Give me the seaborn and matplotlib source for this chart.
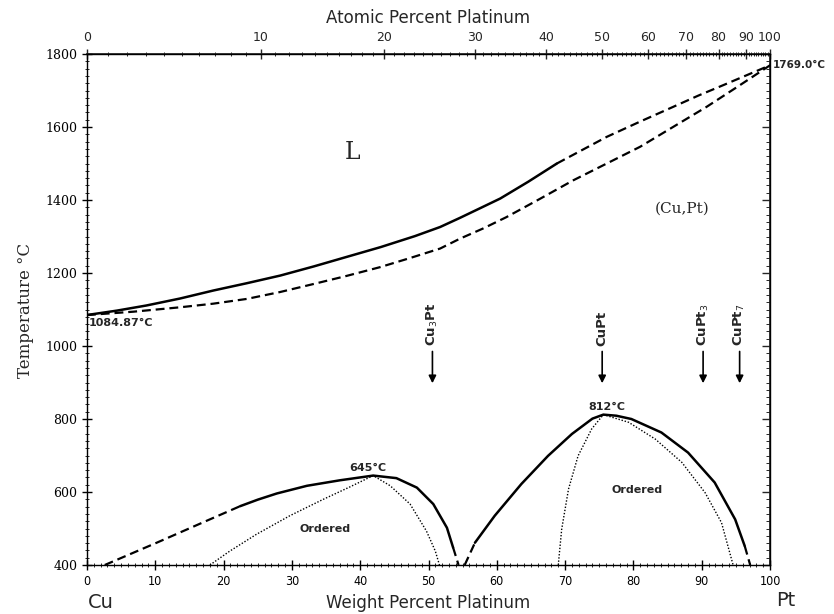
import numpy as np
import pandas as pd
import matplotlib
matplotlib.use("Agg")
import matplotlib.pyplot as plt
import seaborn as sns

# Cu-Pt phase diagram
# liquidus (solid part, then dashed part)
liq_solid_x = [0, 4.4, 8.7, 13.6, 18.5, 23.4, 28.3, 33.2, 38.0, 43.0, 48.0, 51.7, 54.6, 57.5, 60.5, 64.6, 68.8]
liq_solid_t = [1084.87, 1097, 1111, 1130, 1152, 1172, 1193, 1218, 1244, 1271, 1301, 1326, 1351, 1377, 1404, 1450, 1500]
liq_dash_x = [68.8, 72.5, 76.1, 81.0, 85.8, 89.5, 93.2, 96.6, 100]
liq_dash_t = [1500, 1537, 1573, 1615, 1655, 1686, 1715, 1742, 1769]

# solidus (dashed)
sol_x = [0, 6.8, 13.6, 18.5, 23.4, 28.3, 33.2, 38.0, 42.9, 47.3, 51.7, 54.6, 58.0, 61.4, 66.3, 71.2, 76.1, 81.0, 85.8, 90.7, 95.3, 100]
sol_t = [1084.87, 1094, 1106, 1116, 1129, 1148, 1170, 1192, 1216, 1241, 1267, 1294, 1322, 1353, 1403, 1454, 1500, 1546, 1600, 1655, 1711, 1769]

# Cu3Pt ordering dome
cu3pt_dash1_x = [2.6, 10.2, 17.5, 22.4]
cu3pt_dash1_t = [400, 461, 521, 561]
cu3pt_solid_x = [22.4, 25.0, 27.8, 32.2, 37.0, 41.9, 45.3, 48.3, 50.7, 52.7, 53.6]
cu3pt_solid_t = [561, 579, 596, 617, 632, 645, 638, 612, 567, 502, 448]
cu3pt_dash2_x = [53.6, 54.4]
cu3pt_dash2_t = [448, 400]
cu3pt_dot_x = [18.0, 20.9, 24.8, 29.7, 34.6, 38.5, 41.9, 44.4, 47.3, 49.7, 51.0, 51.6]
cu3pt_dot_t = [400, 438, 484, 535, 580, 614, 645, 617, 567, 493, 438, 400]

# CuPt ordering dome
cupt_dash1_x = [55.3, 56.8]
cupt_dash1_t = [400, 461]
cupt_solid_x = [56.8, 59.7, 63.6, 67.5, 71.0, 74.0, 75.6, 77.5, 79.7, 84.1, 88.0, 91.9, 94.9, 96.3]
cupt_solid_t = [461, 535, 622, 699, 759, 801, 812, 809, 800, 763, 708, 626, 525, 452]
cupt_dash2_x = [96.3, 97.1]
cupt_dash2_t = [452, 400]
cupt_dot_x = [69.0, 69.5, 70.5, 71.9, 73.9, 75.6, 79.3, 83.2, 87.1, 90.5, 92.9, 94.6]
cupt_dot_t = [400, 498, 608, 699, 773, 812, 791, 745, 681, 598, 516, 400]

# compounds (atomic percent Pt)
compounds = ["Cu$_3$Pt", "CuPt", "CuPt$_3$", "CuPt$_7$"]
compounds_at = [25, 50, 75, 87.5]

M_CU = 63.546
M_PT = 195.08


def wt_to_at(w):
    w = np.clip(np.asarray(w, dtype=float), 0, 100)
    a = w / M_PT
    b = (100 - w) / M_CU
    return 100 * a / np.where(a + b == 0, 1, a + b)


def at_to_wt(a):
    a = np.clip(np.asarray(a, dtype=float), 0, 100)
    p = a * M_PT
    q = (100 - a) * M_CU
    return 100 * p / np.where(p + q == 0, 1, p + q)


sns.set_theme(style="ticks")
plt.rcParams["font.family"] = ["DejaVu Sans"]

fig = plt.figure(figsize=(8.34, 6.14), dpi=100)
ax = fig.add_axes([87 / 834, 1 - 565 / 614, (770 - 87) / 834, (565 - 54) / 614])


def draw(x, t, **kw):
    df = pd.DataFrame({"x": x, "t": t})
    sns.lineplot(data=df, x="x", y="t", ax=ax, sort=False, color="black",
                 estimator=None, **kw)


solid = dict(lw=1.8)
dashed = dict(lw=1.6, dashes=(4, 2.2))
dotted = dict(lw=1.0, dashes=(1, 1.3))

draw(liq_solid_x, liq_solid_t, **solid)
draw(liq_dash_x, liq_dash_t, **dashed)
draw(sol_x, sol_t, **dashed)
draw(cu3pt_dash1_x, cu3pt_dash1_t, **dashed)
draw(cu3pt_solid_x, cu3pt_solid_t, **solid)
draw(cu3pt_dash2_x, cu3pt_dash2_t, **dashed)
draw(cu3pt_dot_x, cu3pt_dot_t, **dotted)
draw(cupt_dash1_x, cupt_dash1_t, **dashed)
draw(cupt_solid_x, cupt_solid_t, **solid)
draw(cupt_dash2_x, cupt_dash2_t, **dashed)
draw(cupt_dot_x, cupt_dot_t, **dotted)

ax.set_xlim(0, 100)
ax.set_ylim(400, 1800)
ax.set_xlabel("")
ax.set_ylabel("")

# ticks
ax.set_xticks(range(0, 101, 10))
ax.set_xticks(range(0, 101, 1), minor=True)
ax.set_yticks(range(400, 1801, 200))
ax.set_yticks(range(400, 1801, 20), minor=True)
ax.tick_params(axis="both", which="major", direction="inout", length=7, width=1,
               colors="black")
ax.tick_params(axis="both", which="minor", direction="inout", length=3, width=0.7)
for lab in ax.get_xticklabels():
    lab.set_fontsize(9)
    lab.set_fontstretch("condensed")
for lab in ax.get_yticklabels():
    lab.set_fontfamily("DejaVu Serif")
    lab.set_fontsize(9)
for s in ax.spines.values():
    s.set_color("black")
    s.set_linewidth(1.0)

# right side: inward ticks only
secy = ax.secondary_yaxis("right")
secy.set_yticks(range(400, 1801, 200))
secy.set_yticks(range(400, 1801, 20), minor=True)
secy.tick_params(which="major", direction="in", length=6, width=1, labelright=False)
secy.tick_params(which="minor", direction="in", length=3, width=0.7)

# top axis, atomic percent
sec = ax.secondary_xaxis("top", functions=(wt_to_at, at_to_wt))
sec.set_xticks(range(0, 101, 10))
sec.set_xticks(range(0, 101, 1), minor=True)
sec.tick_params(which="major", direction="inout", length=7, width=1, labelsize=9)
sec.tick_params(which="minor", direction="inout", length=3, width=0.7)
sec.set_xlabel("Atomic Percent Platinum", fontsize=12, labelpad=6)

# labels
ax.text(0.5, -0.075, "Weight Percent Platinum", transform=ax.transAxes,
        ha="center", va="center", fontsize=12)
fig.text(101 / 834, 1 - 603 / 614, "Cu", ha="center", va="center", fontsize=14)
fig.text(786 / 834, 1 - 601 / 614, "Pt", ha="center", va="center", fontsize=14)
fig.text(25 / 834, 1 - 310 / 614, "Temperature °C", rotation=90, ha="center",
         va="center", fontsize=12, family="DejaVu Serif")

ax.text(38.9, 1531, "L", fontsize=17, family="DejaVu Serif", ha="center", va="center")
ax.text(87.1, 1377, "(Cu,Pt)", fontsize=11, family="DejaVu Serif", ha="center", va="center")
ax.text(0.3, 1078, "1084.87°C", fontsize=8, ha="left", va="top", fontweight="bold")
ax.text(100.4, 1769, "1769.0°C", fontsize=7.5, ha="left", va="center", fontweight="bold",
        clip_on=False)
ax.text(41.1, 652, "645°C", fontsize=8, ha="center", va="bottom", fontweight="bold")
ax.text(76.1, 818, "812°C", fontsize=8, ha="center", va="bottom", fontweight="bold")
ax.text(34.8, 499, "Ordered", fontsize=8, ha="center", va="center", fontweight="bold")
ax.text(80.6, 606, "Ordered", fontsize=8, ha="center", va="center", fontweight="bold")

for name, a in zip(compounds, compounds_at):
    xw = float(at_to_wt(a))
    ax.annotate("", xy=(xw, 898), xytext=(xw, 985),
                arrowprops=dict(arrowstyle="-|>", color="black", lw=1.2,
                                mutation_scale=11, shrinkA=0, shrinkB=0))
    ax.text(xw, 1000, name, rotation=90, ha="center", va="bottom", fontsize=9.5,
            fontweight="bold")

fig.savefig("out.png", dpi=100)
